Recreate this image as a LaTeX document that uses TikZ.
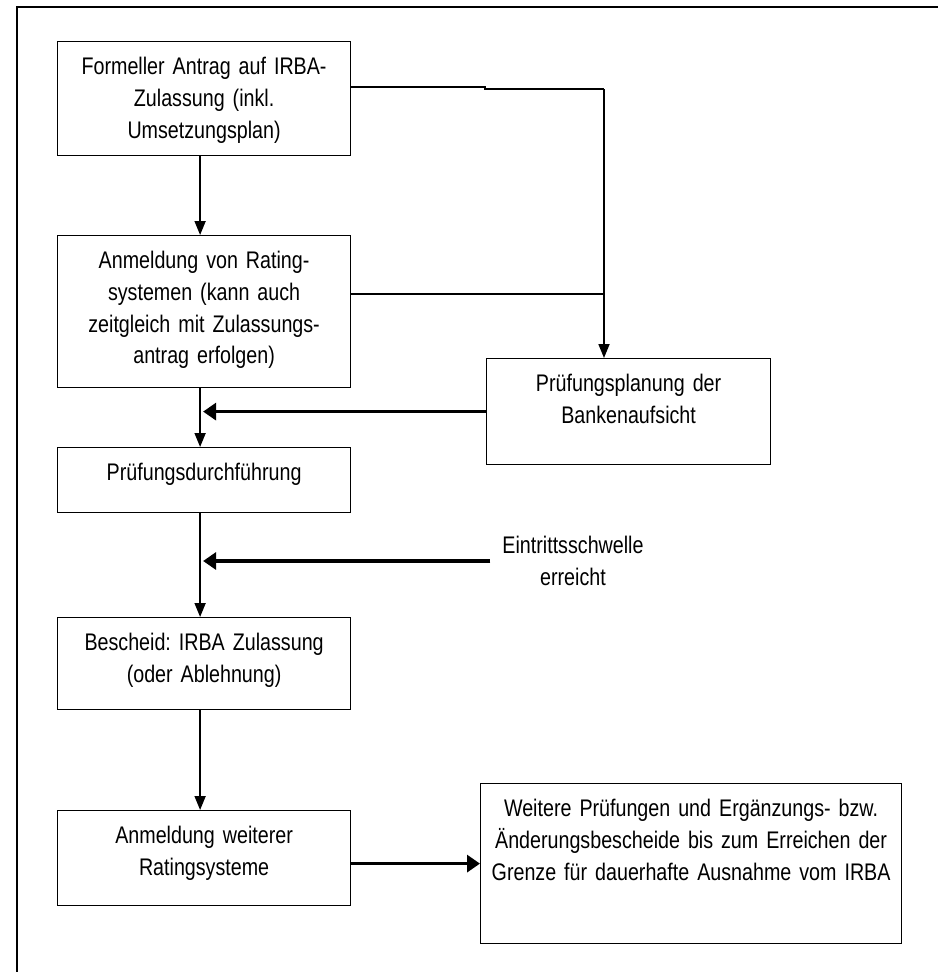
\documentclass[tikz,border=0pt]{standalone}
\usepackage{fontspec}
\setmainfont[FakeStretch=0.82,WordSpace=0.85]{Liberation Sans}
\usetikzlibrary{arrows.meta}
\frenchspacing

\tikzset{
  stepbox/.style={draw, line width=1.2pt, anchor=north west, align=center,
    inner xsep=4pt, inner ysep=18pt, text height=15pt, text width=285pt},
  flow/.style={line width=1.8pt, -{Triangle[length=14pt,width=11pt]}},
  feed/.style={line width=3.2pt, -{Triangle[length=13pt,width=17pt]}},
  link/.style={line width=1.1pt}
}

\begin{document}
\begin{tikzpicture}[x=1pt,y=-1pt,font=\fontsize{24}{31.7}\selectfont]
\useasboundingbox (0,0) rectangle (938,972);
\fill[white] (0,0) rectangle (938,972);
\draw[line width=1.4pt] (17,972) -- (17,7) -- (938,7);

% left column
\node[stepbox, text depth=63pt] (antrag) at (57,41) {Formeller Antrag auf IRBA-\\Zulassung (inkl.\\Umsetzungsplan)};
\node[stepbox, text depth=101pt] (anmeldung) at (57,235) {Anmeldung von Rating-\\systemen (kann auch\\zeitgleich mit Zulassungs-\\antrag erfolgen)};
\node[stepbox, text depth=14pt] (durchf) at (57,447) {Prüfungsdurchführung};
\node[stepbox, text depth=41pt] (bescheid) at (57,617) {Bescheid: IRBA Zulassung\\(oder Ablehnung)};
\node[stepbox, text depth=44pt] (weitere) at (57,810) {Anmeldung weiterer\\Ratingsysteme};

% right side
\node[stepbox, text depth=55pt, text width=276pt] (pruefplan) at (486,358) {Prüfungsplanung der\\Bankenaufsicht};
\node[stepbox, text depth=109pt, text width=413pt] (ergaenz) at (480,783) {Weitere Prüfungen und Ergänzungs- bzw.\\Änderungsbescheide bis zum Erreichen der\\Grenze für dauerhafte Ausnahme vom IRBA};
\node[align=center, inner xsep=12pt, inner ysep=0pt] (schwelle) at (573,561) {Eintrittsschwelle\\erreicht};

\coordinate (jog) at (485,87);
\coordinate (drop) at (604,89);
\coordinate (merge) at (604,294);

\draw[flow] ([xshift=-4pt]antrag.south) -- ([xshift=-4pt]anmeldung.north);
\draw[flow] ([xshift=-4pt]anmeldung.south) -- ([xshift=-4pt]durchf.north);
\draw[flow] ([xshift=-4pt]durchf.south) -- ([xshift=-4pt]bescheid.north);
\draw[flow] ([xshift=-4pt]bescheid.south) -- ([xshift=-4pt]weitere.north);

\draw[link] (antrag.east |- jog) -- (jog) -- ++(0,2) -- (drop);
\draw[link] (anmeldung.east |- merge) -- (merge);
\draw[flow] (drop) -- (drop |- pruefplan.north);

\draw[feed] (pruefplan.west) -- ([xshift=-1pt]anmeldung.south |- pruefplan.west);
\draw[feed] (schwelle.west) -- ([xshift=-1pt]durchf.south |- schwelle.west);
\draw[feed] (weitere.east |- ergaenz.west) -- (ergaenz.west);
\end{tikzpicture}
\end{document}
